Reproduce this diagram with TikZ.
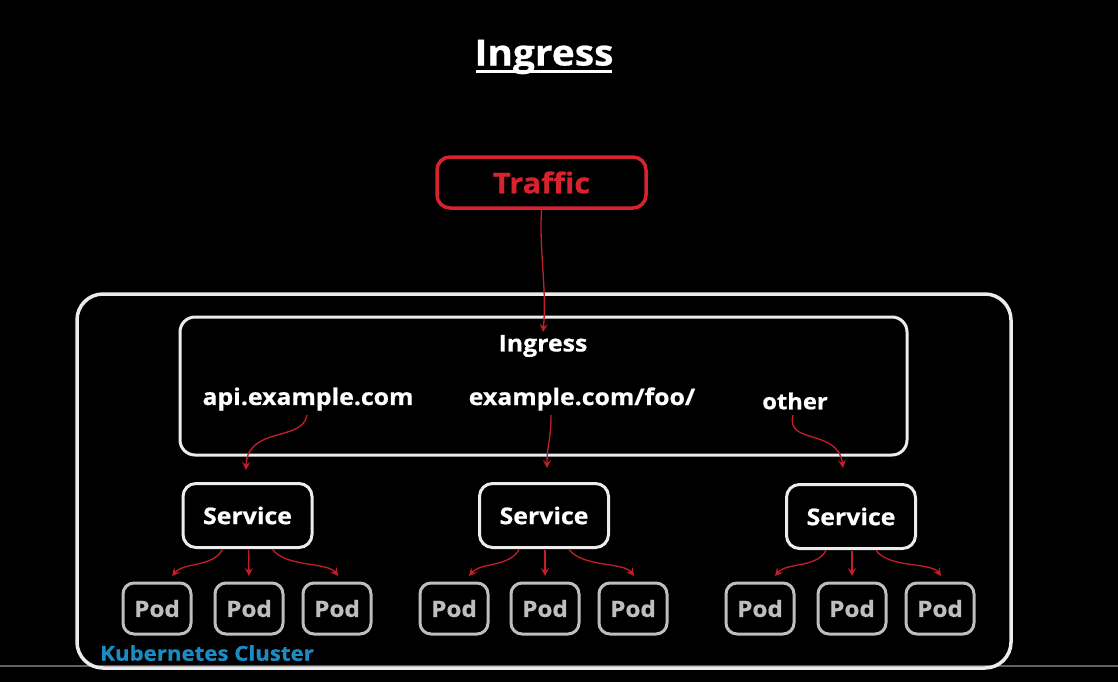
\documentclass[tikz,border=0pt]{standalone}
\usepackage{fontspec}
\setmainfont{Open Sans}[FakeStretch=1.08, BoldFeatures={FakeBold=0.6}]
\usetikzlibrary{arrows.meta,calc}
\definecolor{kred}{HTML}{D8222E}
\definecolor{ared}{HTML}{C21F2B}
\definecolor{kblue}{HTML}{1A8CC4}
\definecolor{boxw}{HTML}{ECECEC}
\definecolor{podg}{HTML}{BEBEBE}
\begin{document}
\begin{tikzpicture}[x=1pt,y=-1pt,
  wbox/.style={draw=boxw, line width=3pt, rounded corners=13pt, text=white,
    font=\bfseries\fontsize{23}{26}\selectfont, inner sep=0pt, outer sep=0pt},
  svcbox/.style={wbox, minimum width=129pt, minimum height=64pt},
  podbox/.style={draw=podg, line width=3pt, rounded corners=11pt, text=podg,
    font=\bfseries\fontsize{22.5}{26}\selectfont, inner sep=0pt, outer sep=0pt,
    minimum width=68pt, minimum height=51pt},
  lbl/.style={text=white, font=\bfseries\fontsize{23}{26}\selectfont, inner sep=0pt},
  flow/.style={draw=ared, line width=1.3pt, -{Stealth[length=8pt,width=8pt,inset=3pt]}}
]
\fill[black] (0,0) rectangle (1118,682);
\useasboundingbox (0,0) rectangle (1118,682);
% progress bar line
\draw[line width=2pt, color=black!62] (0,666) -- (1118,666);

% title
\node[text=white, font=\bfseries\fontsize{36}{42}\selectfont, inner sep=0pt] (title) at (544,57) {Ingress};
\draw[white, line width=3pt] (476,72) -- (612,72);

% traffic
\node[draw=kred, line width=3.5pt, rounded corners=13pt, minimum width=209pt, minimum height=51pt,
  text=kred, font=\bfseries\fontsize{28.5}{32}\selectfont, inner sep=0pt] (traffic) at (541.5,182.5) {Traffic};

% cluster
\node[draw=boxw, line width=3.5pt, rounded corners=26pt, minimum width=934pt, minimum height=374pt, inner sep=0pt] (cluster) at (544,481) {};
\node[text=kblue, font=\bfseries\fontsize{20.6}{24}\selectfont, anchor=west, inner sep=0pt] (clabel) at (100,653) {Kubernetes Cluster};

% ingress box
\node[wbox, rounded corners=15pt, minimum width=727pt, minimum height=138pt] (ingress) at (543.5,386) {};
\node[lbl] (ingtitle) at (543,346) {Ingress};
\node[lbl] (api) at (308,399) {api.example.com};
\node[lbl] (foo) at (582,399) {example.com/foo/};
\node[lbl, font=\bfseries\fontsize{22}{26}\selectfont] (other) at (795,401) {other};

% services
\node[svcbox] (s1) at (247.5,515.5) {Service};
\node[svcbox] (s2) at (544,515.5) {Service};
\node[svcbox] (s3) at (851,516.5) {Service};

% pods
\foreach \n/\x in {p1/157,p2/249,p3/337,p4/454,p5/545,p6/633,p7/760,p8/852,p9/940}{
  \node[podbox] (\n) at (\x,608.5) {Pod};
}

% connectors
\coordinate (tin) at (543,332);
\draw[flow] (traffic.south) .. controls (539,250) and (547,290) .. (tin);

\coordinate (a1) at (246,470);
\coordinate (a2) at (547,468);
\coordinate (a3) at (843,468);
\draw[flow] (307,415) .. controls (303,442) and (247,426) .. (a1);
\draw[flow] (551,415) .. controls (551,440) and (547,445) .. (a2);
\draw[flow] (793,415) .. controls (785,445) and (838,428) .. (a3);

\foreach \s/\l/\m/\r in {s1/p1/p2/p3,s2/p4/p5/p6,s3/p7/p8/p9}{
  \draw[flow] ($(\s.south)+(-25,2)$) .. controls +(-10,18) and +(12,-14) .. ($(\l.north)+(15,-7)$);
  \draw[flow] ($(\s.south)+(1,2)$) -- ($(\m.north)+(0,-7)$);
  \draw[flow] ($(\s.south)+(25,2)$) .. controls +(14,18) and +(-10,-14) .. ($(\r.north)+(1,-7)$);
}
\end{tikzpicture}
\end{document}
